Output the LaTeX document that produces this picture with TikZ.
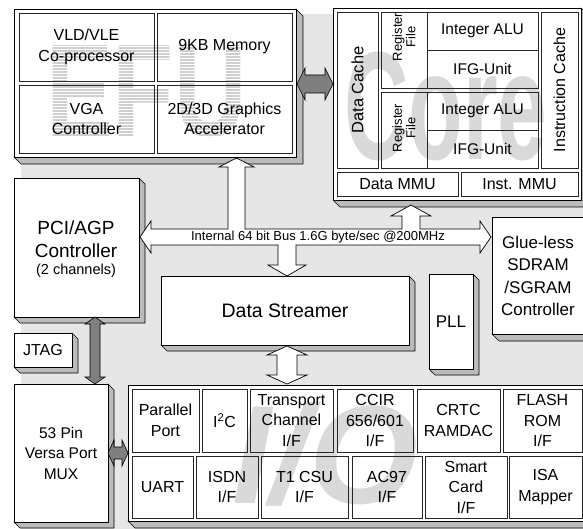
\documentclass[tikz,border=0pt]{standalone}
\usepackage{fontspec}
\setmainfont{Liberation Sans}
\definecolor{bg}{HTML}{E6E6E6}
\definecolor{shade}{HTML}{BBBBBB}
\definecolor{darr}{HTML}{7F7F7F}
\definecolor{wm}{HTML}{D9D9D9}
\definecolor{wmefu}{HTML}{CFCFCF}
\newcommand{\fs}[2]{\fontsize{#1}{#2}\selectfont}
\tikzset{
  face/.style={draw=black, fill=white, line width=0.8pt},
  cell/.style={draw=black!85, line width=0.9pt},
  shd/.style={draw=black, fill=shade, line width=0.6pt, line join=round},
  arr/.style={draw=black, fill=white, line width=0.7pt, line join=miter},
  darrow/.style={draw=black, fill=darr, line width=0.6pt},
  lbl/.style={align=center, inner sep=0pt, outer sep=0pt},
  wmark/.style={inner sep=0pt, outer sep=0pt, text=wm, text depth=0pt},
}
% 3D box: name, x1, y1, x2, y2, depth
\newcommand{\tdbox}[6]{%
  \filldraw[shd] (#4,#3) -- ({#4+#6},{#3+#6}) -- ({#4+#6},{#5+#6}) -- ({#2+#6},{#5+#6}) -- (#2,#5) -- (#4,#5) -- cycle;
  \draw[face] (#2,#3) rectangle (#4,#5);
  \coordinate (#1) at ({(#2+#4)/2},{(#3+#5)/2});
}
% cell: name, x1, y1, x2, y2
\newcommand{\cellbox}[5]{%
  \draw[cell] (#2,#3) rectangle (#4,#5);
  \coordinate (#1) at ({(#2+#4)/2},{(#3+#5)/2});
}
% horizontal double block arrow: style, x1, x2, y, headlen, headhalf, stemhalf
\newcommand{\hblock}[7]{%
  \filldraw[#1] (#2,#4) -- ({#2+#5},{#4-#6}) -- ({#2+#5},{#4-#7}) -- ({#3-#5},{#4-#7}) -- ({#3-#5},{#4-#6}) -- (#3,#4) -- ({#3-#5},{#4+#6}) -- ({#3-#5},{#4+#7}) -- ({#2+#5},{#4+#7}) -- ({#2+#5},{#4+#6}) -- cycle;
}
% vertical double block arrow: style, x, y1, y2, headlen, headhalf, stemhalf
\newcommand{\vblock}[7]{%
  \filldraw[#1] (#2,#3) -- ({#2+#6},{#3+#5}) -- ({#2+#7},{#3+#5}) -- ({#2+#7},{#4-#5}) -- ({#2+#6},{#4-#5}) -- (#2,#4) -- ({#2-#6},{#4-#5}) -- ({#2-#7},{#4-#5}) -- ({#2-#7},{#3+#5}) -- ({#2-#6},{#3+#5}) -- cycle;
}
\begin{document}
\begin{tikzpicture}[x=1pt,y=-1pt]
\useasboundingbox (0,0) rectangle (583,529);
\clip (0,0) rectangle (583,529);
\fill[bg] (21,14) rectangle (583,529);

% ---------------- EFU block ----------------
\tdbox{efu}{14}{9}{296}{157}{7}
\node[wmark, text=wmefu, anchor=base west, xscale=0.76] (efuwm) at (46,137) {\fs{132}{132}\bfseries EFU};
\foreach \yy in {38,41,...,140} {\draw[white, line width=1pt] (40,\yy) -- (262,\yy);}
\cellbox{vld}{19}{13}{154}{81}
\cellbox{kbm}{157}{13}{292}{81}
\cellbox{vga}{19}{85}{154}{153}
\cellbox{gfx}{157}{85}{292}{153}
\node[lbl, font=\fs{16}{20.5}] (tvld) at (vld) {VLD/VLE\\Co-processor};
\node[lbl, font=\fs{16}{20.5}] (tkbm) at (kbm) {9KB Memory};
\node[lbl, font=\fs{16}{20.5}] (tvga) at (vga) {VGA\\Controller};
\node[lbl, font=\fs{16}{20.5}] (tgfx) at (gfx) {2D/3D Graphics\\Accelerator};

% ---------------- Core block ----------------
\tdbox{core}{333}{8}{581}{200}{7}
\node[wmark, anchor=base west, xscale=0.58] (corewm) at (344,160) {\fs{154}{154}\bfseries Core};
\cellbox{dcache}{337}{12}{378}{168}
\cellbox{rfa}{381}{12}{427}{88}
\cellbox{alua}{427}{12}{538}{50}
\cellbox{ifga}{427}{50}{538}{88}
\cellbox{rfb}{381}{92}{427}{168}
\cellbox{alub}{427}{92}{538}{130}
\cellbox{ifgb}{427}{130}{538}{168}
\cellbox{icache}{541}{12}{578}{168}
\cellbox{dmmu}{337}{172}{458}{196}
\cellbox{immu}{461}{172}{578}{196}
\node[lbl, rotate=90, font=\fs{16.5}{18}] (tdc) at (dcache) {Data Cache};
\node[lbl, rotate=90, font=\fs{13}{13.5}] (trfa) at (404,37) {Register\\File};
\node[lbl, rotate=90, font=\fs{13}{13.5}] (trfb) at (404,128) {Register\\File};
\node[lbl, font=\fs{15.5}{18}] (talua) at (alua) {Integer ALU};
\node[lbl, font=\fs{15.5}{18}] (tifga) at (ifga) {IFG-Unit};
\node[lbl, font=\fs{15.5}{18}] (talub) at (alub) {Integer ALU};
\node[lbl, font=\fs{15.5}{18}] (tifgb) at (ifgb) {IFG-Unit};
\node[lbl, rotate=90, font=\fs{16}{18}] (tic) at (icache) {Instruction Cache};
\node[lbl, font=\fs{16}{18}] (tdm) at (dmmu) {Data MMU};
\node[lbl, font=\fs{16}{18}] (tim) at (immu) {Inst. MMU};

% ---------------- middle blocks ----------------
\tdbox{pci}{14}{178}{139}{317}{6}
\node[lbl, font=\fs{19}{23}] (tpci) at (76,239) {PCI/AGP\\Controller};
\node[lbl, font=\fs{14.5}{16}] (tpci2) at (76,271) {(2 channels)};
\tdbox{ds}{161}{276}{409}{345}{6}
\node[lbl, font=\fs{19.5}{22}] (tds) at (ds) {Data Streamer};
\tdbox{pll}{429}{274}{473}{369}{6}
\node[lbl, font=\fs{17}{20}] (tpll) at (pll) {PLL};
\tdbox{glue}{492}{217}{592}{334}{7}
\node[lbl, font=\fs{17}{22.5}] (tglue) at (538,276) {Glue-less\\SDRAM\\/SGRAM\\Controller};
\tdbox{jtag}{14}{333}{72}{367}{6}
\node[lbl, font=\fs{16}{18}] (tjtag) at (jtag) {JTAG};
\tdbox{mux}{14}{384}{108}{522}{6}
\node[lbl, font=\fs{15.5}{20.5}] (tmux) at (61,453) {53 Pin\\Versa Port\\MUX};

% ---------------- I/O block ----------------
\tdbox{io}{128}{385}{590}{521}{7}
\node[wmark, anchor=base west] (iowm) at (232,503) {\fs{140}{140}\bfseries\itshape I/O};
\cellbox{par}{132}{389}{199}{452}
\cellbox{iic}{202}{389}{247}{452}
\cellbox{trc}{250}{389}{333}{452}
\cellbox{ccir}{337}{389}{413}{452}
\cellbox{crtc}{417}{389}{500}{452}
\cellbox{flash}{503}{389}{582}{452}
\cellbox{uart}{132}{456}{193}{518}
\cellbox{isdn}{196}{456}{258}{518}
\cellbox{tcsu}{261}{456}{348}{518}
\cellbox{ac}{352}{456}{422}{518}
\cellbox{smart}{425}{456}{507}{518}
\cellbox{isa}{509}{456}{582}{518}
\node[lbl, font=\fs{16}{20.5}] (tpar) at (par) {Parallel\\Port};
\node[lbl, font=\fs{16}{20.5}] (tiic) at (iic) {I\textsuperscript{2}C};
\node[lbl, font=\fs{16}{20.5}] (ttrc) at (trc) {Transport\\Channel\\I/F};
\node[lbl, font=\fs{16}{20.5}] (tccir) at (ccir) {CCIR\\656/601\\I/F};
\node[lbl, font=\fs{16}{20.5}] (tcrtc) at (crtc) {CRTC\\RAMDAC};
\node[lbl, font=\fs{16}{20.5}] (tflash) at (flash) {FLASH\\ROM\\I/F};
\node[lbl, font=\fs{16}{20.5}] (tuart) at (uart) {UART};
\node[lbl, font=\fs{16}{20.5}] (tisdn) at (isdn) {ISDN\\I/F};
\node[lbl, font=\fs{16}{20.5}] (ttcsu) at (tcsu) {T1 CSU\\I/F};
\node[lbl, font=\fs{16}{20.5}] (tac) at (ac) {AC97\\I/F};
\node[lbl, font=\fs{16}{20.5}] (tsmart) at (smart) {Smart\\Card\\I/F};
\node[lbl, font=\fs{16}{20.5}] (tisa) at (isa) {ISA\\Mapper};

% ---------------- arrows ----------------
\hblock{darrow}{297}{333}{84}{8}{16}{9}
\vblock{darrow}{95}{317}{384}{7}{10}{5}
\hblock{darrow}{108}{128}{453}{6}{13}{6}
\vblock{arr}{287}{346}{384}{9}{20}{10}
% internal bus with branches
\filldraw[arr] (140,237) -- (151,221) -- (151,229) -- (228,229) -- (228,167) -- (219,167) -- (236.5,158) -- (254,167) -- (245,167) -- (245,229)
  -- (402,229) -- (402,216) -- (391,216) -- (411,205) -- (431,216) -- (420,216) -- (420,229)
  -- (480,229) -- (480,221) -- (491,237) -- (480,253) -- (480,245)
  -- (296,245) -- (296,265) -- (306,265) -- (287,276) -- (268,265) -- (278,265) -- (278,245)
  -- (151,245) -- (151,253) -- cycle;
\node[lbl, font=\fs{13}{15}] (tbus) at (318,237) {Internal 64 bit Bus 1.6G byte/sec @200MHz};
\end{tikzpicture}
\end{document}
